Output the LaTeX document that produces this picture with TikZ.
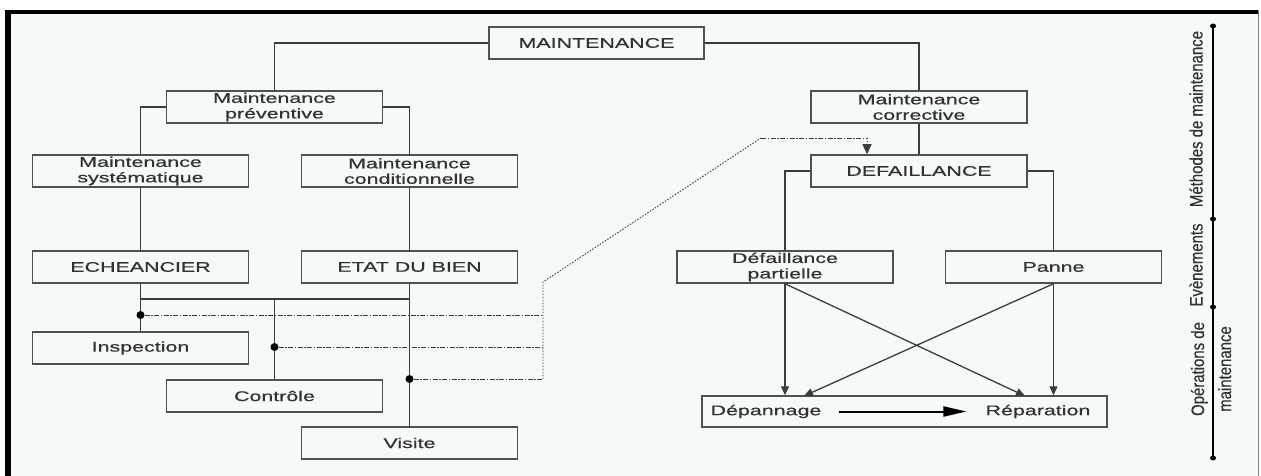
\documentclass[tikz,border=0pt]{standalone}
\usepackage{fontspec}
\setmainfont{Liberation Sans}
\newfontfamily\widefont{Liberation Sans}[FakeStretch=1.53,FakeBold=0.6]
\newfontfamily\narrowfont{Liberation Sans}[FakeStretch=0.83,FakeBold=0.4]
\usetikzlibrary{arrows.meta,calc,shapes.geometric}
\definecolor{bgc}{RGB}{245,249,247}
\definecolor{linec}{RGB}{60,60,60}
\definecolor{boxc}{RGB}{80,80,80}
\definecolor{txtc}{RGB}{50,50,50}
\begin{document}
\begin{tikzpicture}[x=1pt,y=-1pt,
  box/.style={draw=boxc,line width=1.5pt,fill=bgc,minimum width=216pt,minimum height=32pt,
    inner sep=0pt,align=center,text=txtc,font=\widefont\fontsize{14}{15.5}\selectfont},
  txt/.style={inner sep=0pt,text=txtc,font=\widefont\fontsize{14}{15.5}\selectfont},
  conn/.style={draw=linec,line width=1.5pt},
  arr/.style={draw=linec,line width=1.3pt,-{Triangle[length=9pt,width=8pt]}},
  bigarr/.style={draw=black,line width=2pt,-{Triangle[length=23pt,width=10pt]}},
  dashdot/.style={draw=linec,line width=0.9pt,dash pattern=on 5pt off 1.5pt on 1.5pt off 1.5pt},
  dotl/.style={draw=linec,line width=0.9pt,dash pattern=on 1.5pt off 1.5pt},
  dot/.style={circle,fill=black,inner sep=0pt,minimum size=8pt},
  sdot/.style={ellipse,fill=black,inner sep=0pt,minimum width=6pt,minimum height=5pt},
  rot/.style={rotate=90,inner sep=0pt,text=txtc,font=\narrowfont\fontsize{18}{27}\selectfont}]
\useasboundingbox (0,0) rectangle (1261,476);
\fill[white] (0,0) rectangle (1261,476);
\fill[bgc] (5,10) rectangle (1258,476);
\fill[black] (5,10) rectangle (1258,14);
\fill[black] (5,10) rectangle (11,476);
\draw[gray,line width=1pt] (1258,10) -- (1258,476);

% boxes
\node[box,minimum width=215pt] (maint) at (596.5,43) {MAINTENANCE};
\node[box] (prev) at (274.5,107) {Maintenance\\préventive};
\node[box] (corr) at (919,107) {Maintenance\\corrective};
\node[box] (syst) at (140.5,171) {Maintenance\\systématique};
\node[box] (cond) at (409.5,171) {Maintenance\\conditionnelle};
\node[box] (defa) at (919,171) {DEFAILLANCE};
\node[box] (eche) at (140.5,267) {ECHEANCIER};
\node[box] (etat) at (409.5,267) {ETAT DU BIEN};
\node[box] (part) at (785,267) {Défaillance\\partielle};
\node[box] (panne) at (1053.5,267) {Panne};
\node[box] (insp) at (140.5,348) {Inspection};
\node[box] (ctrl) at (274.5,396) {Contrôle};
\node[box] (vis) at (409.5,443) {Visite};
\node[box,minimum width=405pt,minimum height=31pt] (ops) at (904.5,411.5) {};
\node[txt] (dep) at (766,411.5) {Dépannage};
\node[txt] (repa) at (1038,411.5) {Réparation};

% tree connectors
\draw[conn] (maint.west) -| (prev.north);
\draw[conn] (maint.east) -| (corr.north);
\draw[conn] (prev.west) -| (syst.north);
\draw[conn] (prev.east) -| (cond.north);
\draw[conn] (corr.south) -- (defa.north);
\draw[conn] (defa.west) -| (part.north);
\draw[conn] (defa.east) -| (panne.north);
\draw[conn] (syst) -- (eche);
\draw[conn] (cond) -- (etat);
\draw[conn] (eche) -- (insp);
\draw[conn] (etat) -- (vis);
\coordinate (jl) at (140.5,299);
\coordinate (jr) at (409.5,299);
\draw[conn] (jl) -- (jr);
\draw[conn] (ctrl.north |- jl) -- (ctrl.north);

% dots and dotted route
\node[dot] (d1) at (140.5,315) {};
\node[dot] (d2) at (274.5,347) {};
\node[dot] (d3) at (409.5,379) {};
\coordinate (v1) at (543,315);
\coordinate (v2) at (543,347);
\coordinate (v3) at (543,379);
\coordinate (v4) at (543,282);
\coordinate (v5) at (761,138);
\coordinate (v6) at (867,138);
\draw[dashdot] (d1) -- (v1);
\draw[dashdot] (d2) -- (v2);
\draw[dashdot] (d3) -- (v3);
\draw[dotl] (v3) -- (v4) -- (v5);
\draw[dashdot] (v5) -- (v6);
\draw[dotl,-{Triangle[length=10pt,width=9pt]}] (v6) -- (v6 |- defa.north);

% arrows to operations
\coordinate (t1) at (1025,396);
\coordinate (t2) at (804,396);
\draw[arr] (part.south) -- (part.south |- ops.north);
\draw[arr] (part.south) -- (t1);
\draw[arr] (panne.south) -- (t2);
\draw[arr] (panne.south) -- (panne.south |- ops.north);
\draw[bigarr] ([xshift=17pt]dep.east) -- ([xshift=-19pt]repa.west);

% right scale
\node[sdot] (s0) at (1213,26) {};
\node[sdot] (s1) at (1213,219) {};
\node[sdot] (s2) at (1213,307) {};
\node[sdot] (s3) at (1213,458) {};
\draw[black,line width=1.5pt] (s0.center) -- (s3.center);
\node[rot] (lab1) at (1196,119) {Méthodes de maintenance};
\node[rot] (lab2) at (1196,265) {Evènements};
\node[rot,align=center] (lab3) at (1211,369) {Opérations de\\maintenance};
\end{tikzpicture}
\end{document}
